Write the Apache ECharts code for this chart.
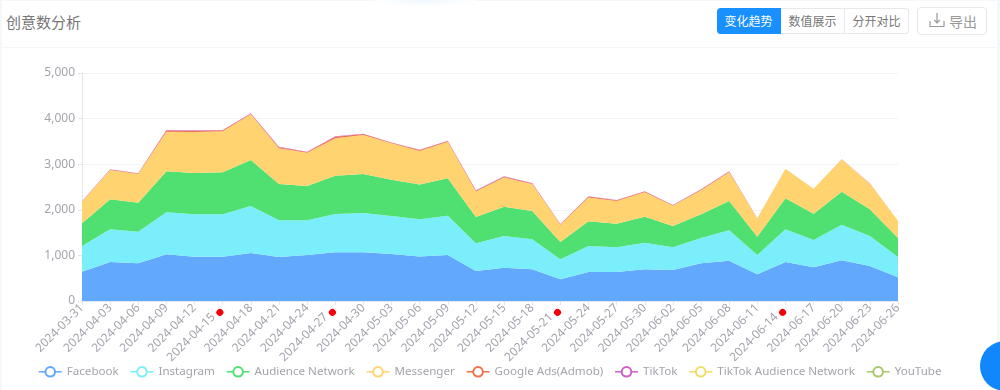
<!DOCTYPE html>
<html>
<head>
<meta charset="utf-8">
<script src="https://cdn.jsdelivr.net/npm/echarts@6/dist/echarts.min.js"></script>
<style>
  html, body { margin: 0; padding: 0; width: 1000px; height: 390px; overflow: hidden; background: #f6f7f9; }
  body { position: relative; font-family: "Noto Sans CJK SC", "Noto Sans", sans-serif; }
  .card { position: absolute; left: 2px; top: 1px; width: 995px; height: 389px; background: #fff; }
  .glow { position: absolute; left: 375px; top: 0; width: 100px; height: 6px; background: radial-gradient(ellipse at top, #eef7fd 0%, #ffffff 75%); }
  .title { position: absolute; left: 6px; top: 10px; font-size: 15px; line-height: 24px; color: #777; }
  .rule { position: absolute; left: 2px; top: 47px; width: 995px; height: 1px; background: #f5f5f6; }
  .tabs { position: absolute; left: 717px; top: 8px; height: 26px; display: flex; font-size: 12px; line-height: 24px; color: #777; }
  .tabs div { box-sizing: border-box; width: 64px; height: 26px; text-align: center; border: 1px solid #e6e8ec; border-left: none; background: #fff; }
  .tabs div:first-child { background: #1890ff; border-color: #1890ff; color: #fff; border-radius: 4px 0 0 4px; }
  .tabs div:last-child { border-radius: 0 4px 4px 0; }
  .export { position: absolute; left: 917px; top: 7px; width: 68px; height: 26px; border: 1px solid #e8eaee; border-radius: 4px; font-size: 14px; line-height: 26px; color: #999; }
  .export svg { position: absolute; left: 11px; top: 4px; }
  .export span { position: absolute; left: 31px; top: 0; }
  #chart { position: absolute; left: 0; top: 0; width: 1000px; height: 390px; }
  .float-btn { position: absolute; left: 980px; top: 341px; width: 50px; height: 50px; border-radius: 50%; background: #1088fb; }
</style>
</head>
<body>
<div class="card"></div>
<div class="glow"></div>
<div class="title">创意数分析</div>
<div class="rule"></div>
<div class="tabs"><div>变化趋势</div><div>数值展示</div><div>分开对比</div></div>
<div class="export">
  <svg width="16" height="16" viewBox="0 0 16 16" fill="none" stroke="#999" stroke-width="1.2">
    <path d="M1 9v5.5h14V9M8 1v9.5M5.2 8l2.8 2.8L10.8 8"/>
  </svg>
  <span>导出</span>
</div>
<div id="chart"></div>
<div class="float-btn"></div>
<script>
const dates = [
  '2024-03-31', '2024-04-03', '2024-04-06', '2024-04-09', '2024-04-12', '2024-04-15',
  '2024-04-18', '2024-04-21', '2024-04-24', '2024-04-27', '2024-04-30', '2024-05-03',
  '2024-05-06', '2024-05-09', '2024-05-12', '2024-05-15', '2024-05-18', '2024-05-21',
  '2024-05-24', '2024-05-27', '2024-05-30', '2024-06-02', '2024-06-05', '2024-06-08',
  '2024-06-11', '2024-06-14', '2024-06-17', '2024-06-20', '2024-06-23', '2024-06-26'
];
// dates that carry a red dot on their axis label
const markedDates = ['2024-04-15', '2024-04-27', '2024-05-21', '2024-06-14'];

const facebook = [644, 856, 826, 1024, 973, 973, 1053, 965, 1009, 1068, 1068, 1031, 975, 1009, 658, 731, 695, 475, 636, 636, 695, 680, 826, 885, 585, 856, 739, 892, 768, 519];
const instagram = [563, 716, 695, 921, 928, 928, 1031, 804, 760, 840, 862, 833, 820, 863, 607, 694, 658, 439, 570, 541, 585, 497, 556, 665, 424, 716, 599, 782, 658, 446];
const audienceNetwork = [497, 658, 636, 899, 906, 921, 1008, 797, 753, 841, 855, 797, 760, 818, 577, 644, 621, 380, 541, 519, 570, 468, 519, 643, 402, 680, 578, 724, 585, 417];
const messenger = [474, 643, 628, 869, 899, 899, 1002, 782, 731, 818, 855, 797, 735, 800, 558, 641, 591, 376, 523, 499, 535, 443, 529, 632, 399, 648, 544, 707, 567, 378];
const googleAds = [5, 9, 9, 28, 28, 21, 13, 26, 14, 34, 21, 14, 20, 19, 19, 17, 16, 14, 19, 15, 15, 13, 14, 13, 1, 1, 1, 1, 1, 1];
const tiktok = [3, 5, 6, 9, 9, 8, 8, 10, 8, 10, 8, 6, 8, 7, 8, 7, 7, 5, 6, 5, 5, 4, 5, 5, 2, 1, 2, 1, 1, 1];
const tiktokAudience = [0, 0, 0, 0, 0, 0, 0, 0, 0, 0, 0, 0, 0, 0, 0, 0, 0, 0, 0, 0, 0, 0, 0, 0, 0, 0, 0, 0, 0, 0];
const youtube = [0, 0, 0, 0, 0, 0, 0, 0, 0, 0, 0, 0, 0, 0, 0, 0, 0, 0, 0, 0, 0, 0, 0, 0, 0, 0, 0, 0, 0, 0];

const seriesNames = ['Facebook', 'Instagram', 'Audience Network', 'Messenger', 'Google Ads(Admob)', 'TikTok', 'TikTok Audience Network', 'YouTube'];
const seriesValues = [facebook, instagram, audienceNetwork, messenger, googleAds, tiktok, tiktokAudience, youtube];
const seriesColors = ['#62a9fe', '#7beefc', '#50df71', '#ffd470', '#ef6f4e', '#d05fc8', '#eedd66', '#a9c86c'];

const textColor = '#a3a3ad';
const fontFamily = '"Noto Sans", "Noto Sans CJK SC", sans-serif';

const chart = echarts.init(document.getElementById('chart'));
chart.setOption({
  animation: false,
  color: seriesColors,
  grid: { left: 82, right: 102, top: 73, bottom: 89, containLabel: false },
  legend: {
    left: 33,
    top: 361,
    itemWidth: 23,
    itemHeight: 12,
    itemGap: 11,
    lineStyle: { width: 1.5 },
    textStyle: { color: textColor, fontSize: 11.6, fontFamily: fontFamily },
    data: seriesNames
  },
  xAxis: {
    type: 'category',
    boundaryGap: false,
    data: dates,
    axisLine: { lineStyle: { color: '#e4e6ee' } },
    axisTick: { alignWithLabel: true, length: 4, lineStyle: { color: '#e4e6ee' } },
    axisLabel: {
      interval: 0,
      rotate: 45,
      margin: 5,
      color: textColor,
      fontSize: 12,
      fontFamily: fontFamily,
      formatter: d => (markedDates.includes(d) ? d + '{gap| }{dot| }{tail| }' : d),
      rich: {
        gap: { width: 3 },
        dot: { width: 7, height: 7, borderRadius: 4, backgroundColor: '#f5000a', verticalAlign: 'bottom' },
        tail: { width: 3 }
      }
    }
  },
  yAxis: {
    type: 'value',
    min: 0,
    max: 5000,
    interval: 1000,
    axisLine: { show: true, lineStyle: { color: '#e4e6ee' } },
    axisTick: { show: true, length: 4, lineStyle: { color: '#e4e6ee' } },
    axisLabel: {
      margin: 7,
      color: textColor,
      fontSize: 12,
      fontFamily: fontFamily,
      formatter: v => v.toLocaleString('en-US')
    },
    splitLine: { lineStyle: { color: '#f3f4f7' } }
  },
  series: seriesNames.map((name, i) => ({
    name: name,
    type: 'line',
    stack: 'total',
    symbol: 'emptyCircle',
    symbolSize: 10,
    showSymbol: false,
    lineStyle: { width: 0 },
    areaStyle: { opacity: 1 },
    data: seriesValues[i]
  }))
});
</script>
</body>
</html>
